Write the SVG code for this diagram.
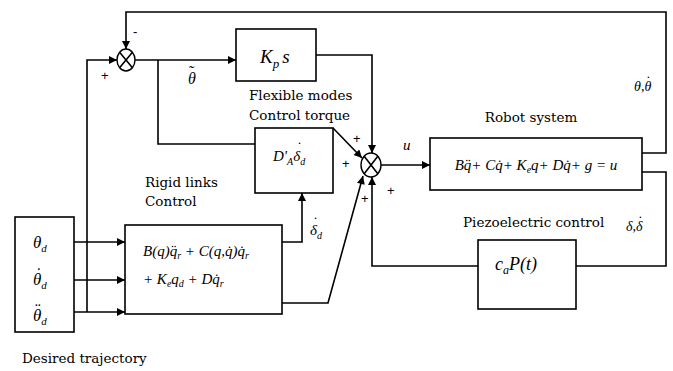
<svg xmlns="http://www.w3.org/2000/svg" width="673" height="371" viewBox="0 0 673 371">
<defs>
<marker id="ah" viewBox="0 0 10 10" refX="10" refY="5" markerWidth="9" markerHeight="8" markerUnits="userSpaceOnUse" orient="auto">
<path d="M0,0 L10,5 L0,10 z" fill="#000"/>
</marker>
<style>
.box{fill:#fff;stroke:#000;stroke-width:1.6}
.sum{fill:#fff;stroke:#000;stroke-width:1.4}
.ln{fill:none;stroke:#000;stroke-width:1.6}
.arr{fill:none;stroke:#000;stroke-width:1.6;marker-end:url(#ah)}
.lbl{font-family:"DejaVu Serif","Liberation Serif",serif;font-size:13.5px;fill:#000}
.m{font-family:"Liberation Serif",serif;font-style:italic;fill:#000}
.ac{font-style:normal}
.pm{font-family:"Liberation Sans",sans-serif;font-size:13px;fill:#000}
</style>
</defs>
<rect width="673" height="371" fill="#fff"/>

<g id="connectors">
<polyline class="arr" points="642,153 666,153 666,12 126,12 126,49"/>
<polyline class="arr" points="87,312 87,60 117,60"/>
<line class="arr" x1="135" y1="60" x2="236" y2="60"/>
<polyline class="ln" points="158,60 158,144 258,144"/>
<polyline class="arr" points="316,55 372,55 372,153"/>
<line class="arr" x1="333" y1="128" x2="362" y2="158"/>
<line class="arr" x1="74" y1="242" x2="125" y2="242"/>
<line class="arr" x1="74" y1="280" x2="125" y2="280"/>
<line class="arr" x1="74" y1="312" x2="125" y2="312"/>
<polyline class="arr" points="282,242 302,242 302,193"/>
<polyline class="arr" points="282,303 328,303 363,176"/>
<line class="arr" x1="381" y1="165" x2="430" y2="165"/>
<polyline class="ln" points="642,172 666,172 666,266 576,266"/>
<polyline class="arr" points="478,266 372,266 372,177"/>
</g>

<g id="sum1">
<ellipse class="sum" cx="126" cy="60" rx="9" ry="11"/>
<path class="ln" d="M119.6,52.2 L132.4,67.8 M132.4,52.2 L119.6,67.8" stroke-width="1.2"/>
<text class="pm" x="133" y="36">-</text>
<text class="pm" x="101" y="80">+</text>
</g>

<g id="kp">
<rect class="box" x="236" y="29" width="80" height="52"/>
<text class="m" x="260" y="63" font-size="19">K<tspan font-size="13" dy="5">p</tspan><tspan dy="-5" dx="3">s</tspan></text>
</g>

<text class="m" x="188" y="84" font-size="16">θ<tspan class="ac" x="189" y="77">˜</tspan></text>
<text class="lbl" x="249" y="100">Flexible modes</text>
<text class="lbl" x="249" y="120">Control torque</text>

<g id="flex">
<rect class="box" x="255" y="128" width="78" height="65"/>
<text class="m" x="273" y="161" font-size="15">D'<tspan font-size="10" dy="4">A</tspan><tspan dy="-4">δ</tspan><tspan font-size="10" dy="4">d</tspan><tspan class="ac" x="297" y="152">˙</tspan></text>
</g>

<text class="lbl" x="145" y="187">Rigid links</text>
<text class="lbl" x="145" y="206">Control</text>

<g id="traj">
<rect class="box" x="15" y="217" width="59" height="115"/>
<text class="m" x="33" y="248" font-size="17">θ<tspan font-size="11" dy="4">d</tspan></text>
<text class="m" x="33" y="285" font-size="17">θ<tspan font-size="11" dy="4">d</tspan><tspan class="ac" x="36" y="279">˙</tspan></text>
<text class="m" x="33" y="321" font-size="17">θ<tspan font-size="11" dy="4">d</tspan><tspan class="ac" x="35" y="315">¨</tspan></text>
</g>
<text class="lbl" x="22" y="363">Desired trajectory</text>

<g id="rigid">
<rect class="box" x="125" y="225" width="157" height="89"/>
<text class="m" x="143" y="256" font-size="15">B(q)q̈<tspan font-size="10" dy="3">r</tspan><tspan dy="-3"> + C(q,q̇)q̇</tspan><tspan font-size="10" dy="3">r</tspan></text>
<text class="m" x="143" y="284" font-size="15">+ K<tspan font-size="10" dy="3">e</tspan><tspan dy="-3">q</tspan><tspan font-size="10" dy="3">d</tspan><tspan dy="-3"> + Dq̇</tspan><tspan font-size="10" dy="3">r</tspan></text>
</g>
<text class="m" x="310" y="235" font-size="15">δ<tspan font-size="10" dy="4">d</tspan><tspan class="ac" x="313" y="227">˙</tspan></text>

<g id="sum2">
<ellipse class="sum" cx="371" cy="165" rx="10" ry="12"/>
<path class="ln" d="M364,156 L378,174 M378,156 L364,174" stroke-width="1.2"/>
<text class="pm" x="353" y="143">+</text>
<text class="pm" x="342" y="168">+</text>
<text class="pm" x="361" y="203">+</text>
<text class="pm" x="387" y="195">+</text>
</g>
<text class="m" x="403" y="150" font-size="15">u</text>

<text class="lbl" x="531" y="122" text-anchor="middle">Robot system</text>
<g id="robot">
<rect class="box" x="430" y="138" width="212" height="52"/>
<text class="m" x="536" y="170" font-size="15" text-anchor="middle">Bq̈+ Cq̇+ K<tspan font-size="10" dy="3">e</tspan><tspan dy="-3">q+ Dq̇+ g = u</tspan></text>
</g>
<text class="m" x="634" y="91" font-size="14">θ,θ<tspan class="ac" x="646" y="86">˙</tspan></text>

<text class="lbl" x="463" y="227">Piezoelectric control</text>
<text class="m" x="626" y="231" font-size="14">δ,δ<tspan class="ac" x="638" y="226">˙</tspan></text>
<g id="piezo">
<rect class="box" x="478" y="240" width="98" height="69"/>
<text class="m" x="495" y="270" font-size="18">c<tspan font-size="12" dy="4">a</tspan><tspan dy="-4">P(t)</tspan></text>
</g>
</svg>
